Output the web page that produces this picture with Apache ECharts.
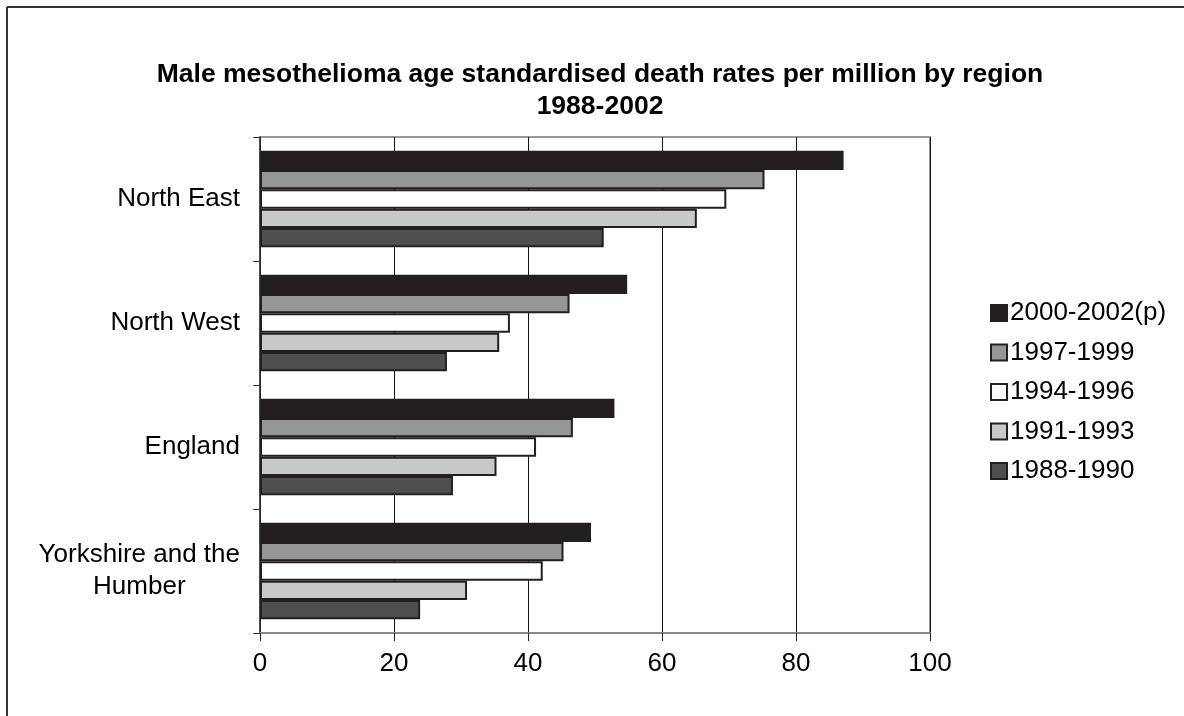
<!DOCTYPE html>
<html>
<head>
<meta charset="utf-8">
<script src="https://cdn.jsdelivr.net/npm/echarts@6/dist/echarts.min.js"></script>
<style>html,body{margin:0;padding:0;background:#fff;}#c{width:1184px;height:716px;}</style>
</head>
<body>
<div id="c"></div>
<script>
const categories = ['North East', 'North West', 'England', 'Yorkshire and the Humber'];
const seriesNames = ['2000-2002(p)', '1997-1999', '1994-1996', '1991-1993', '1988-1990'];
const s2000 = [87.1, 54.8, 52.9, 49.4];
const s1997 = [75.3, 46.2, 46.7, 45.3];
const s1994 = [69.6, 37.3, 41.2, 42.2];
const s1991 = [65.2, 35.7, 35.3, 30.9];
const s1988 = [51.3, 27.9, 28.8, 23.9];
const xTicks = [0, 20, 40, 60, 80, 100];

const seriesData = [s2000, s1997, s1994, s1991, s1988];
const fills = ['#231f20', '#969696', '#ffffff', '#c8c9ca', '#4f4f4f'];
const FONT = 'Liberation Sans, Arial, sans-serif';
const FS = 26;

const chart = echarts.init(document.getElementById('c'), null, {renderer: 'canvas'});
chart.setOption({
  animation: false,
  backgroundColor: '#fff',
  title: {
    text: 'Male mesothelioma age standardised death rates per million by region\n1988-2002',
    left: 595, top: 54, textAlign: 'center',
    textStyle: {fontFamily: FONT, fontSize: 26.5, fontWeight: 'bold', color: '#000', lineHeight: 32}
  },
  legend: {
    orient: 'vertical', left: 985, top: 295,
    itemWidth: 16, itemHeight: 16, itemGap: 13.5,
    icon: 'rect',
    data: seriesNames,
    textStyle: {fontFamily: FONT, fontSize: FS, color: '#000', lineHeight: 26, padding: [0,0,0,-2]}
  },
  grid: {left: 260, right: 254, top: 137, bottom: 83, show: true, borderColor: '#999', borderWidth: 2, containLabel: false},
  xAxis: {
    type: 'value', min: 0, max: 100, interval: 20,
    axisLine: {show: true, lineStyle: {color: '#888', width: 2}},
    axisTick: {show: true, length: 8, lineStyle: {color: '#222'}},
    axisLabel: {fontFamily: FONT, fontSize: FS, color: '#000', margin: 18,
      formatter: v => xTicks.indexOf(v) >= 0 ? String(v) : ''},
    splitLine: {show: true, lineStyle: {color: '#111', width: 1}}
  },
  yAxis: {
    type: 'category', inverse: true, data: categories,
    axisLine: {show: true, onZero: false, lineStyle: {color: '#333', width: 1.5}},
    axisTick: {show: true, length: 7, lineStyle: {color: '#333'}},
    axisLabel: {
      fontFamily: FONT, fontSize: FS, color: '#000', margin: 20,
      formatter: function (v) {
        if (v === 'Yorkshire and the Humber') return '{c|Yorkshire and the}\n{c|Humber}';
        return v;
      },
      rich: {c: {fontFamily: FONT, fontSize: FS, color: '#000', align: 'center', lineHeight: 32}}
    }
  },
  series: seriesNames.map((n, i) => ({
    name: n, type: 'bar', data: seriesData[i],
    barGap: '0%', barCategoryGap: '22%',
    itemStyle: {color: fills[i], borderColor: '#231f20', borderWidth: 2}
  })),
  graphic: [
    {type: 'line', shape: {x1: 7, y1: 7, x2: 1184, y2: 7}, style: {stroke: '#333', lineWidth: 2}},
    {type: 'line', shape: {x1: 7, y1: 7, x2: 7, y2: 716}, style: {stroke: '#333', lineWidth: 2}}
  ]
});
</script>
</body>
</html>
